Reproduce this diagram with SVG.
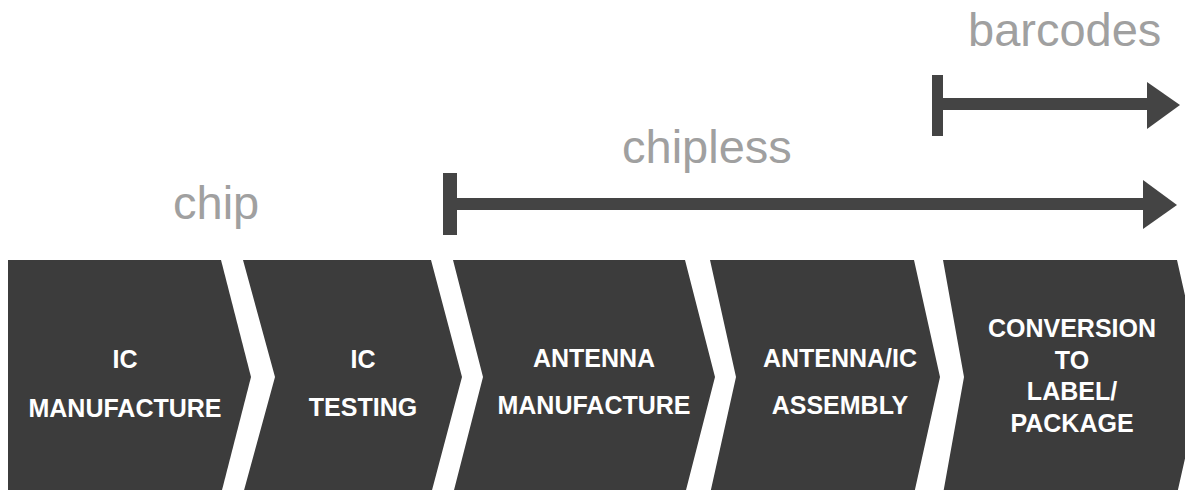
<svg xmlns="http://www.w3.org/2000/svg" width="1185" height="490" viewBox="0 0 1185 490">
<style>
.chev{fill:#3c3c3c;}
.t{font-family:"Liberation Sans",Arial,sans-serif;font-weight:bold;font-size:25px;fill:#ffffff;text-anchor:middle;}
.lbl{font-family:"Liberation Sans",Arial,sans-serif;font-size:47px;fill:#a0a0a0;}
.arr{fill:#444444;}
</style>
<rect width="1185" height="490" fill="#ffffff"/>
<g id="connectors">
  <g id="arrow-barcodes">
    <rect class="arr" x="932" y="75" width="11" height="61"/>
    <rect class="arr" x="942" y="98" width="207" height="12"/>
    <polygon class="arr" points="1147,82 1180,105 1147,129"/>
  </g>
  <g id="arrow-chipless">
    <rect class="arr" x="443" y="173" width="14" height="62"/>
    <rect class="arr" x="456" y="198" width="689" height="12"/>
    <polygon class="arr" points="1143,180 1177,205 1143,229"/>
  </g>
</g>
<g id="label-barcodes"><text class="lbl" x="968" y="46">barcodes</text></g>
<g id="label-chipless"><text class="lbl" x="622" y="163">chipless</text></g>
<g id="label-chip"><text class="lbl" x="173" y="219">chip</text></g>
<g id="node-ic-manufacture">
  <polygon class="chev" points="8,260 221,260 251,377 221,494 8,494"/>
  <text class="t" x="125" y="368">IC</text>
  <text class="t" x="125" y="417">MANUFACTURE</text>
</g>
<g id="node-ic-testing">
  <polygon class="chev" points="243,260 431,260 462,377 431,494 243,494 275,377"/>
  <text class="t" x="363" y="368">IC</text>
  <text class="t" x="363" y="416">TESTING</text>
</g>
<g id="node-antenna-manufacture">
  <polygon class="chev" points="453,260 685,260 715,377 685,494 453,494 483,377"/>
  <text class="t" x="594" y="367">ANTENNA</text>
  <text class="t" x="594" y="414">MANUFACTURE</text>
</g>
<g id="node-antenna-ic-assembly">
  <polygon class="chev" points="710,260 914,260 940,377 914,494 710,494 736,377"/>
  <text class="t" x="840" y="367">ANTENNA/IC</text>
  <text class="t" x="840" y="414">ASSEMBLY</text>
</g>
<g id="node-conversion">
  <polygon class="chev" points="943,260 1177,260 1186,300 1186,454 1177,494 943,494 964,377"/>
  <text class="t" x="1072" y="337">CONVERSION</text>
  <text class="t" x="1072" y="369">TO</text>
  <text class="t" x="1072" y="400">LABEL/</text>
  <text class="t" x="1072" y="432">PACKAGE</text>
</g>
</svg>
